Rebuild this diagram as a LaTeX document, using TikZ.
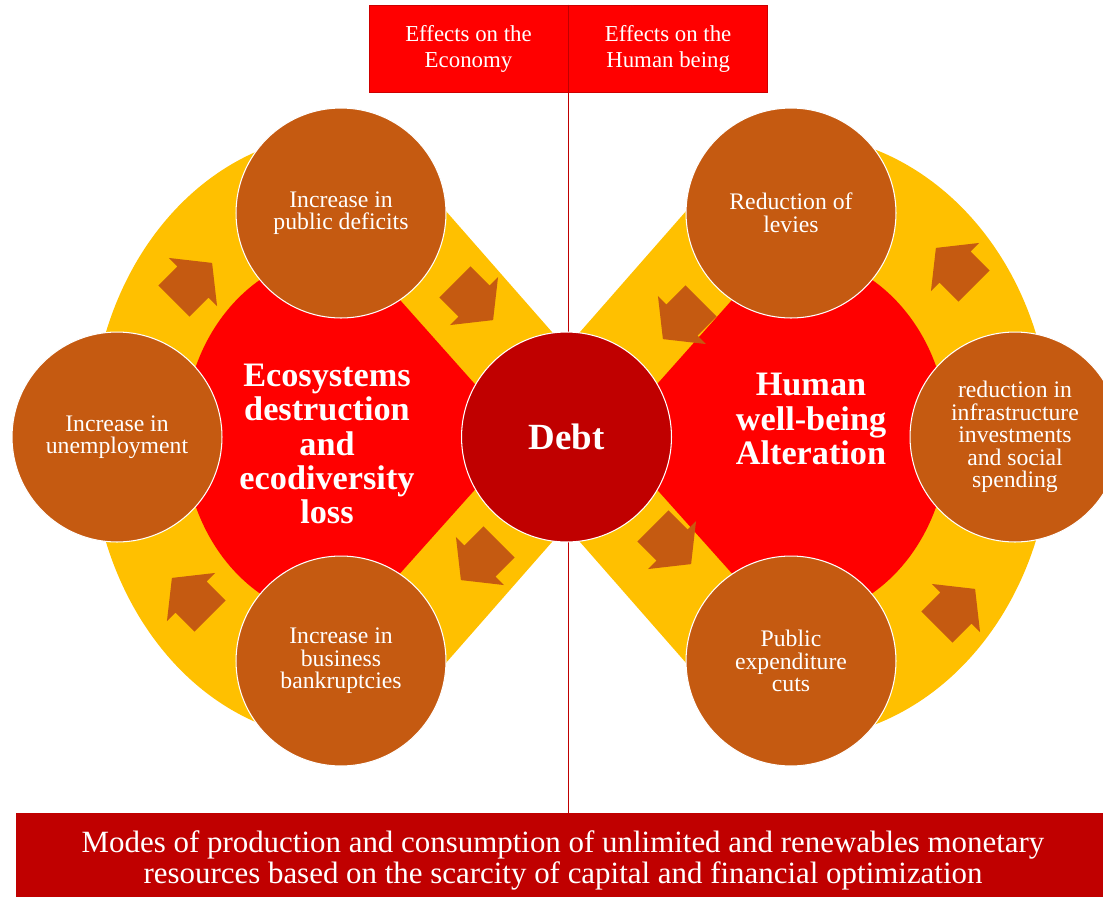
\documentclass[tikz,border=0pt]{standalone}
\usepackage{fontspec}
\setmainfont{Liberation Serif}
\usepackage{tikz}
\usetikzlibrary{positioning}

\definecolor{ringyellow}{HTML}{FFC000}
\definecolor{blobred}{HTML}{FF0000}
\definecolor{nodebrown}{HTML}{C55A11}
\definecolor{debtred}{HTML}{C00000}

\begin{document}
\begin{tikzpicture}[x=0.02cm, y=-0.02cm,
  cyclenode/.style={circle, minimum size=4.2cm, inner sep=0pt, fill=nodebrown, draw=white,
    line width=0.6pt, text=white, align=center, font=\fontsize{13.5}{12.8}\selectfont},
  titletext/.style={text=white, align=center, font=\fontsize{19.5}{19.4}\selectfont\bfseries},
  topbox/.style={rectangle, minimum width=3.98cm, minimum height=1.74cm, inner sep=0pt,
    fill=blobred, draw=blobred!80!black, line width=0.4pt, text=white, align=center,
    font=\fontsize{13}{14.8}\selectfont},
  spine/.style={debtred, line width=0.9pt}]
\useasboundingbox (0,0) rectangle (1103,897);

% Yellow rings
\fill [ringyellow] (566,348) -- (445,210) -- (401,143)
  arc [start angle=-76, end angle=-284, x radius=250, y radius=303]
  -- (445,664) -- (566,526) -- cycle;
\begin{scope}[shift={(1132,0)}, xscale=-1]
  \fill [ringyellow] (566,348) -- (445,210) -- (401,143)
    arc [start angle=-76, end angle=-284, x radius=258, y radius=303]
    -- (445,664) -- (566,526) -- cycle;
\end{scope}

% Red blobs
\fill [blobred] (522,437) -- (360,255)
  arc [start angle=-83, end angle=-277, x radius=157, y radius=183] -- cycle;
\begin{scope}[shift={(1132,0)}, xscale=-1]
  \fill [blobred] (522,437) -- (360,255)
    arc [start angle=-83, end angle=-277, x radius=157, y radius=183] -- cycle;
\end{scope}

% Block arrows on the rings
\foreach \x/\y/\a in {193/282/45, 474/301/-45, 480/561/-135, 191/597/135,
                      682/320/-135, 672/545/-45, 955/267/135, 956/608/45}
  \fill [nodebrown, shift={(\x,\y)}, rotate=\a]
    (-27,-22) -- (0,-22) -- (0,-34) -- (27,0) -- (0,34) -- (0,22) -- (-27,22) -- cycle;

% Header boxes and banner
\node [topbox] (economy) at (468.5,48.5) {Effects on the\\Economy};
\node [topbox, right=0pt of economy] (human) {Effects on the\\Human being};
\node [rectangle, minimum width=21.74cm, minimum height=1.68cm, inner sep=0pt, fill=debtred]
  (banner) at (559.5,855) {};
\node [text=white, align=center, font=\fontsize{17.6}{17.6}\selectfont]
  (bannertext) at (563,860) {Modes of production and consumption of unlimited and renewables monetary\\resources based on the scarcity of capital and financial optimization};
\draw [spine] (economy.north east) -- (economy.north east |- banner.north);

% Left cycle
\node [cyclenode] (deficits) at (341,213) {Increase in\\public deficits};
\node [cyclenode] (unemploy) at (117,437) {Increase in\\unemployment};
\node [cyclenode] (bankrupt) at (341,661) {Increase in\\business\\bankruptcies};
\node [titletext] (ecoloss) at (327,444) {Ecosystems\\destruction\\and\\ecodiversity\\loss};

% Right cycle
\node [cyclenode] (levies) at (791,213) {Reduction of\\levies};
\node [cyclenode] (infra) at (1015,437) {reduction in\\infrastructure\\investments\\and social\\spending};
\node [cyclenode] (expcuts) at (791,661) {Public\\expenditure\\cuts};
\node [titletext] (wellbeing) at (811,419) {Human\\well-being\\Alteration};

% Centre
\node [circle, minimum size=4.2cm, inner sep=0pt, fill=debtred, draw=white, line width=0.6pt,
  text=white, font=\fontsize{21}{21}\selectfont\bfseries] (debt) at (566.5,437) {Debt};
\end{tikzpicture}
\end{document}
